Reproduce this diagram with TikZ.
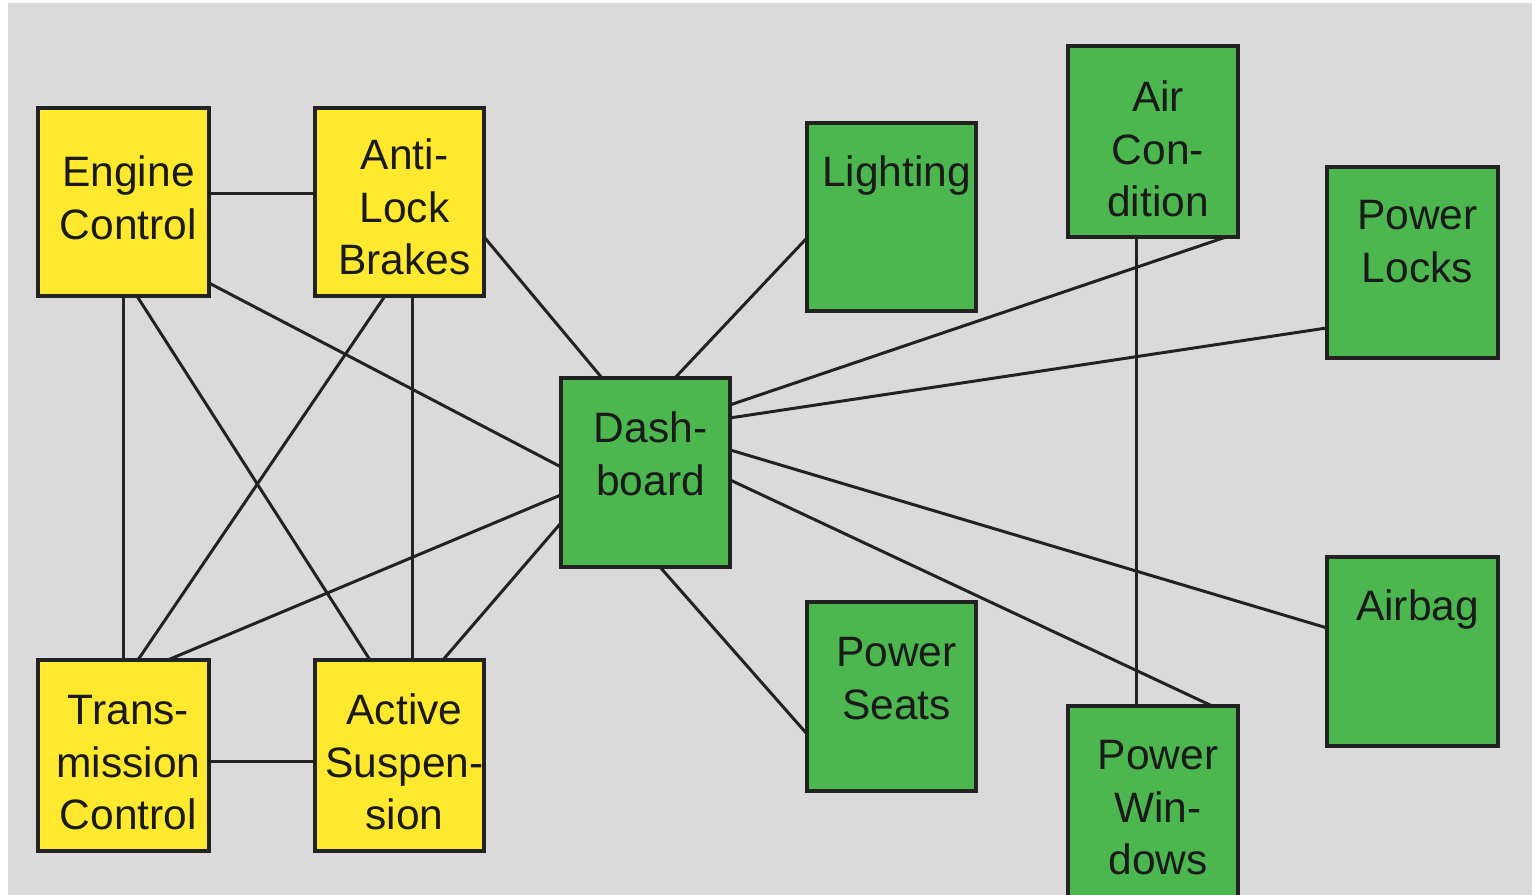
\documentclass[tikz,border=0pt]{standalone}
\usepackage{fontspec}
\setmainfont{Liberation Sans}
\usetikzlibrary{calc}
\definecolor{bgGray}{HTML}{DADADA}
\definecolor{boxYellow}{HTML}{FFE92F}
\definecolor{boxGreen}{HTML}{4DB74F}
\definecolor{edgeDark}{HTML}{222222}
\definecolor{txtDark}{HTML}{1A1A1A}
\tikzset{
  unitbox/.style={draw=edgeDark, line width=1.1pt, inner sep=0pt, outer sep=0pt, rectangle},
  ybox/.style={unitbox, fill=boxYellow},
  gbox/.style={unitbox, fill=boxGreen},
  boxtext/.style={anchor=north, inner sep=0pt, outer sep=0pt, align=center, text=txtDark,
    font=\fontsize{12.09}{14.94}\selectfont},
  link/.style={draw=edgeDark, line width=0.85pt}
}
\newcommand{\fl}{\strut}
\begin{document}
\begin{tikzpicture}[x=0.01cm,y=-0.01cm]
\useasboundingbox (0,0) rectangle (1532,895);
\clip (0,0) rectangle (1532,895);
\fill[white] (0,0) rectangle (1532,895);
\fill[bgGray] (8,3) rectangle (1532,895);

% boxes
\node[ybox, minimum width=1.71cm, minimum height=1.88cm] (engine) at (123.5,202) {};
\node[ybox, minimum width=1.69cm, minimum height=1.88cm] (abs) at (399.5,202) {};
\node[ybox, minimum width=1.71cm, minimum height=1.91cm] (trans) at (123.5,755.5) {};
\node[ybox, minimum width=1.69cm, minimum height=1.91cm] (active) at (399.5,755.5) {};
\node[gbox, minimum width=1.69cm, minimum height=1.89cm] (dash) at (645.5,472.5) {};
\node[gbox, minimum width=1.69cm, minimum height=1.88cm] (light) at (891.5,217) {};
\node[gbox, minimum width=1.70cm, minimum height=1.91cm] (air) at (1153,141.5) {};
\node[gbox, minimum width=1.71cm, minimum height=1.91cm] (locks) at (1412.5,262.5) {};
\node[gbox, minimum width=1.69cm, minimum height=1.89cm] (seats) at (891.5,696.5) {};
\node[gbox, minimum width=1.70cm, minimum height=1.99cm] (windows) at (1153,805.5) {};
\node[gbox, minimum width=1.71cm, minimum height=1.89cm] (airbag) at (1412.5,651.5) {};

% connectors
\draw[link] ($(engine.north east)+(0,86)$) -- ($(abs.north west)+(0,86)$);
\draw[link] ($(engine.south west)+(86,0)$) -- ($(trans.north west)+(86,0)$);
\draw[link] ($(engine.south west)+(99,0)$) -- ($(active.north west)+(55,0)$);
\draw[link] ($(engine.south east)+(0,-13)$) -- ($(dash.north west)+(0,89)$);
\draw[link] ($(abs.south west)+(70,0)$) -- ($(trans.north west)+(100,0)$);
\draw[link] ($(abs.south west)+(98,0)$) -- ($(active.north west)+(98,0)$);
\draw[link] ($(abs.north east)+(0,129)$) -- ($(dash.north west)+(41,0)$);
\draw[link] ($(trans.north west)+(130,0)$) -- ($(dash.north west)+(0,117)$);
\draw[link] ($(trans.north east)+(0,102)$) -- ($(active.north west)+(0,102)$);
\draw[link] ($(active.north west)+(128,0)$) -- ($(dash.north west)+(0,145)$);
\draw[link] ($(dash.north west)+(114,0)$) -- ($(light.north west)+(0,115)$);
\draw[link] ($(dash.north east)+(0,27)$) -- ($(air.south west)+(158,0)$);
\draw[link] ($(dash.north east)+(0,40)$) -- ($(locks.north west)+(0,161)$);
\draw[link] ($(dash.north east)+(0,72)$) -- ($(airbag.north west)+(0,71)$);
\draw[link] ($(dash.north east)+(0,102)$) -- ($(windows.north west)+(144,0)$);
\draw[link] ($(dash.south west)+(99,0)$) -- ($(seats.north west)+(0,132)$);
\draw[link] ($(air.south west)+(69,0)$) -- ($(windows.north west)+(69,0)$);

% texts
\node[boxtext] (engine-t) at ($(engine.north)+(5,42)$) {\fl Engine\\Control};
\node[boxtext] (abs-t) at ($(abs.north)+(5,25)$) {\fl Anti-\\Lock\\Brakes};
\node[boxtext] (trans-t) at ($(trans.north)+(5,28)$) {\fl Trans-\\mission\\Control};
\node[boxtext] (active-t) at ($(active.north)+(5,28)$) {\fl Active\\Suspen-\\sion};
\node[boxtext] (dash-t) at ($(dash.north)+(5,28)$) {\fl Dash-\\board};
\node[boxtext] (light-t) at ($(light.north)+(5,27)$) {\fl Lighting};
\node[boxtext] (air-t) at ($(air.north)+(5,29)$) {\fl Air\\Con-\\dition};
\node[boxtext] (locks-t) at ($(locks.north)+(5,26)$) {\fl Power\\Locks};
\node[boxtext] (seats-t) at ($(seats.north)+(5,28)$) {\fl Power\\Seats};
\node[boxtext] (windows-t) at ($(windows.north)+(5,27)$) {\fl Power\\Win-\\dows};
\node[boxtext] (airbag-t) at ($(airbag.north)+(5,27)$) {\fl Airbag};
\end{tikzpicture}
\end{document}
